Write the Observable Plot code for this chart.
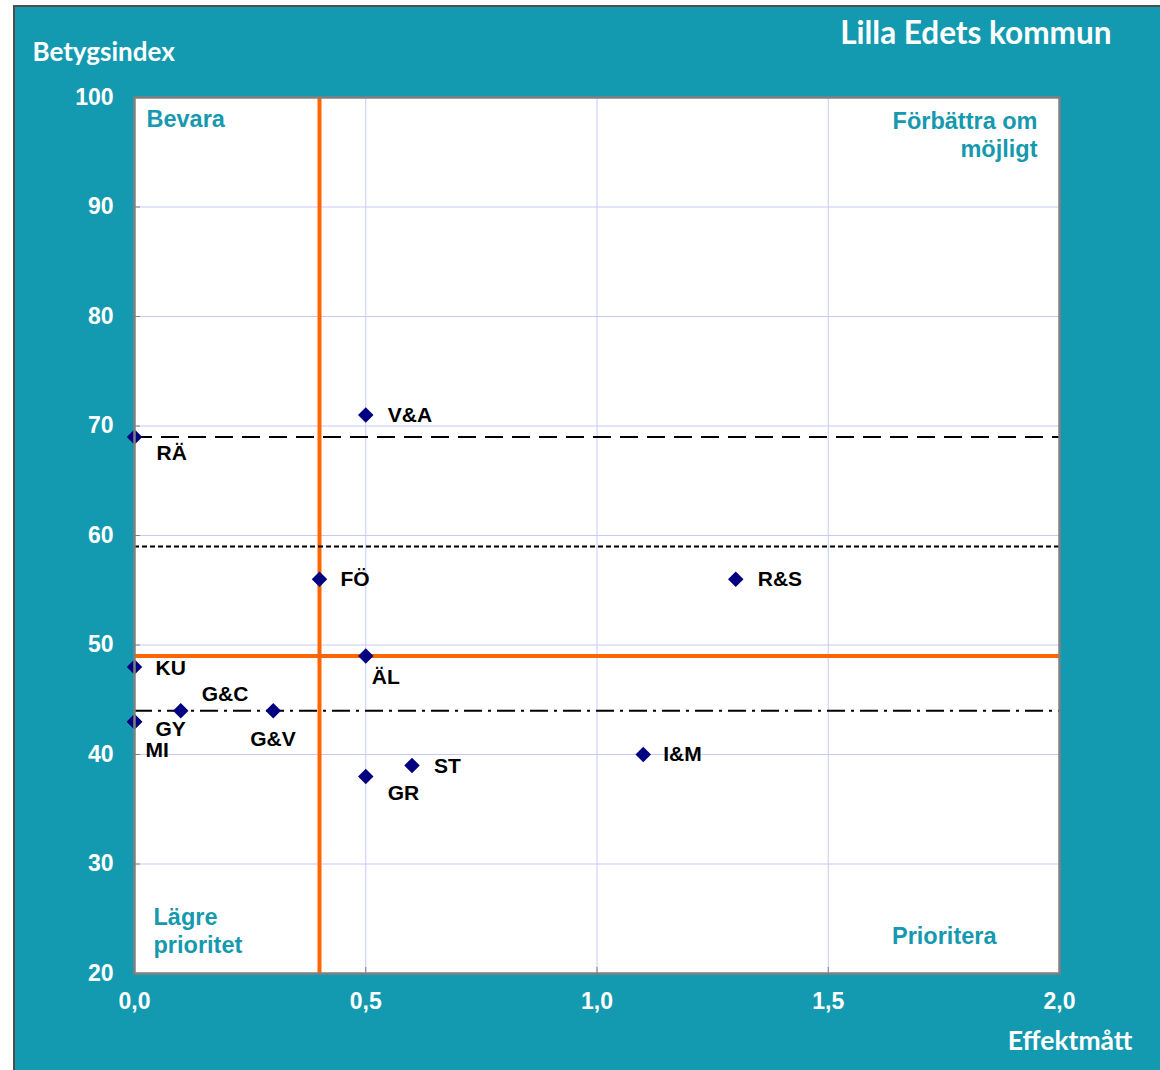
<!DOCTYPE html>
<html>
<head>
<meta charset="utf-8">
<script src="https://cdn.jsdelivr.net/npm/d3@7"></script>
<script src="https://cdn.jsdelivr.net/npm/@observablehq/plot@0.6"></script>
<style>
  html, body { margin: 0; padding: 0; background: #ffffff; width: 1160px; height: 1070px; overflow: hidden; }
  #bg { position: absolute; left: 13px; top: 5px; width: 1200px; height: 1100px; background: #149AB0; border: 2px solid #4d4d4d; }
  #chart { position: absolute; left: 0; top: 0; }
</style>
</head>
<body>
<div id="bg"></div>
<div id="chart"></div>
<script>
// Data
const labels  = ["V&A", "RÄ", "FÖ", "R&S", "KU", "ÄL", "G&C", "GY", "MI", "G&V", "GR", "ST", "I&M"];
const effekt  = [0.5, 0.0, 0.4, 1.3, 0.0, 0.5, 0.1, 0.0, 0.0, 0.3, 0.5, 0.6, 1.1];
const betyg   = [71, 69, 56, 56, 48, 49, 44, 43, 43, 44, 38, 39, 40];
const xTicks  = [0, 0.5, 1.0, 1.5, 2.0];
const yTicks  = [20, 30, 40, 50, 60, 70, 80, 90, 100];
const orangeX = [0.4];
const orangeY = [49];
const dashedY = [69];
const dottedY = [59];
const dashDotY = [44];
const title = "Lilla Edets kommun";
const yLabel = "Betygsindex";
const xLabel = "Effektmått";

// label offsets (px) for placement only
const labelOffset = {
  "V&A": [22, 0], "RÄ": [22, 16], "FÖ": [21, 0], "R&S": [22, 0], "KU": [21, 1],
  "ÄL": [6, 21], "G&C": [21, -16], "GY": [21, 8], "MI": [11, 29], "G&V": [-23, 29],
  "GR": [22, 17], "ST": [22, 1], "I&M": [20, 0]
};

const points = labels.map((l, i) => ({label: l, x: effekt[i], y: betyg[i], dx: labelOffset[l][0], dy: labelOffset[l][1]}));

const teal = "#1699AF";
const fontFam = "'Liberation Sans', Arial, sans-serif";
const titleFont = "Lato, 'Open Sans', sans-serif";

const marks = [
  Plot.frame({fill: "white"}),
  Plot.gridX(xTicks, {stroke: "#c8c8f8", strokeOpacity: 1, strokeWidth: 1}),
  Plot.gridY(yTicks, {stroke: "#c8c8f8", strokeOpacity: 1, strokeWidth: 1}),
  Plot.axisY({ticks: yTicks, tickSize: -6, text: null, stroke: "#808080", label: null}),
  Plot.axisX({ticks: xTicks, tickSize: -6, text: null, stroke: "#808080", label: null}),
  Plot.ruleX(orangeX, {stroke: "#FF6600", strokeWidth: 4}),
  Plot.ruleY(orangeY, {stroke: "#FF6600", strokeWidth: 4}),
  Plot.ruleY(dashedY, {stroke: "black", strokeWidth: 2, strokeDasharray: "18,9"}),
  Plot.ruleY(dottedY, {stroke: "black", strokeWidth: 2, strokeDasharray: "5,3"}),
  Plot.ruleY(dashDotY, {stroke: "black", strokeWidth: 2, strokeDasharray: "18,6,3,6"}),
  Plot.axisX({ticks: xTicks, tickSize: 0, tickPadding: 19, label: null,
    tickFormat: d => d.toFixed(1).replace(".", ","), fill: "white", fontSize: 23, fontWeight: "bold"}),
  Plot.axisY({ticks: yTicks, tickSize: 0, tickPadding: 21, label: null,
    tickFormat: d => String(d), fill: "white", fontSize: 23, fontWeight: "bold"}),
  Plot.dot(points, {x: "x", y: "y", symbol: "diamond2", r: 7, fill: "#000080", stroke: "none"}),
  ...points.map(p => Plot.text([p], {x: "x", y: "y", text: "label", dx: p.dx, dy: p.dy,
    textAnchor: "start", lineAnchor: "middle", fill: "black", fontSize: 21, fontWeight: "bold"})),
  // quadrant labels
  Plot.text(["Bevara"], {frameAnchor: "top-left", text: d => d, dx: 12, dy: 22, textAnchor: "start", lineAnchor: "middle",
    fill: teal, fontSize: 23.5, fontWeight: "bold"}),
  Plot.text(["Förbättra om\nmöjligt"], {frameAnchor: "top-right", text: d => d, dx: -22, dy: 12, textAnchor: "end", lineAnchor: "top",
    fill: teal, fontSize: 23.5, fontWeight: "bold", lineHeight: 1.19}),
  Plot.text(["Lägre\nprioritet"], {frameAnchor: "bottom-left", text: d => d, dx: 19, dy: -21, textAnchor: "start", lineAnchor: "bottom",
    fill: teal, fontSize: 23.5, fontWeight: "bold", lineHeight: 1.15}),
  Plot.text(["Prioritera"], {frameAnchor: "bottom-right", text: d => d, dx: -63, dy: -37, textAnchor: "end", lineAnchor: "middle",
    fill: teal, fontSize: 23.5, fontWeight: "bold"}),
  // titles
  Plot.text([title], {frameAnchor: "top-right", text: d => d, dx: 52, dy: -64, textAnchor: "end", lineAnchor: "middle",
    fill: "white", fontSize: 31.5, fontWeight: "bold", fontFamily: titleFont}),
  Plot.text([yLabel], {frameAnchor: "top-left", text: d => d, dx: -102, dy: -45, textAnchor: "start", lineAnchor: "middle",
    fill: "white", fontSize: 26, fontWeight: "bold", fontFamily: titleFont}),
  Plot.text([xLabel], {frameAnchor: "bottom-right", text: d => d, dx: 73, dy: 68, textAnchor: "end", lineAnchor: "middle",
    fill: "white", fontSize: 26.5, fontWeight: "bold", fontFamily: titleFont}),
  Plot.frame({stroke: "#808080", strokeWidth: 2.5})
];

const chart = Plot.plot({
  width: 1160,
  height: 1070,
  marginLeft: 134,
  marginRight: 101,
  marginTop: 97,
  marginBottom: 97,
  x: {domain: [0, 2]},
  y: {domain: [20, 100]},
  style: {background: "transparent", fontFamily: fontFam, overflow: "visible", color: "white"},
  marks
});
document.getElementById("chart").appendChild(chart);
</script>
</body>
</html>
